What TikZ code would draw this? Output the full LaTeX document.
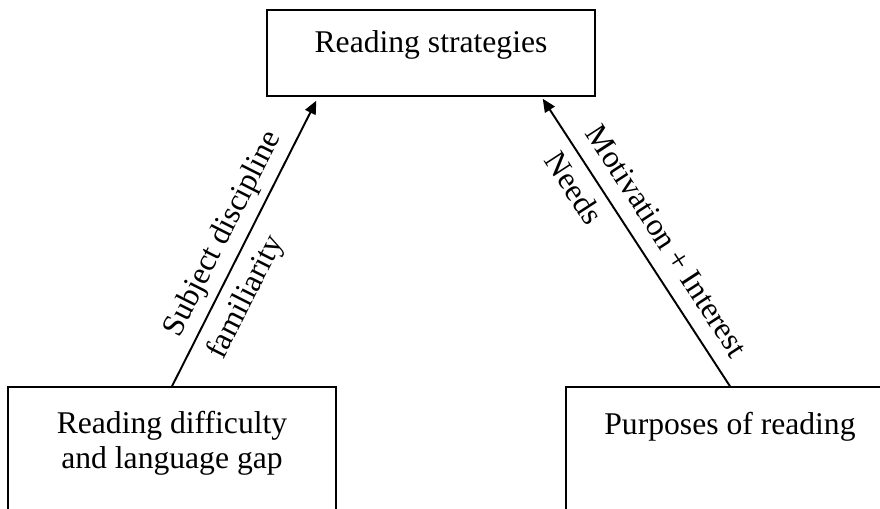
\documentclass[tikz,border=0pt]{standalone}
\usepackage{fontspec}
\setmainfont{Liberation Serif}
\usetikzlibrary{arrows.meta,calc}

\begin{document}
\begin{tikzpicture}[x=0.02cm,y=-0.02cm,
  font=\fontsize{18}{21}\selectfont,
  box/.style={draw=black,line width=0.85pt,minimum width=6.56cm,inner sep=0pt},
  txt/.style={align=center,inner sep=0pt},
  lab/.style={align=left,sloped,inner sep=2pt},
  conn/.style={->,line width=1.1pt},
  >={Triangle[length=7.5pt,width=6.5pt]}]
  \useasboundingbox (0,0) rectangle (880,509);
  \clip (0,0) rectangle (880,509);
  \node[box,minimum height=1.72cm] (strat) at (431,53) {};
  \node[txt,anchor=base] (strattxt) at (431,53) {Reading strategies};
  \node[box,minimum height=3.4cm] (diff) at (172,472) {};
  \node[txt,anchor=north] (difftxt) at (172,411) {Reading difficulty\\[-1pt]and language gap};
  \node[box,minimum height=3.4cm] (purp) at (730,472) {};
  \node[txt,anchor=north] (purptxt) at (730,412) {Purposes of reading};
  \coordinate (lhead) at ($(strat.south west)+(50,4)$);
  \coordinate (rhead) at ($(strat.south east)+(-53,2)$);
  \draw[conn] (diff.north) -- node[lab,pos=0.13,anchor=west,yshift=-1pt]{Subject discipline\\[7pt]familiarity} (lhead);
  \draw[conn] (purp.north) -- node[lab,pos=0.86,anchor=west,yshift=1pt]{Motivation + Interest\\[7pt]Needs} (rhead);
\end{tikzpicture}
\end{document}
